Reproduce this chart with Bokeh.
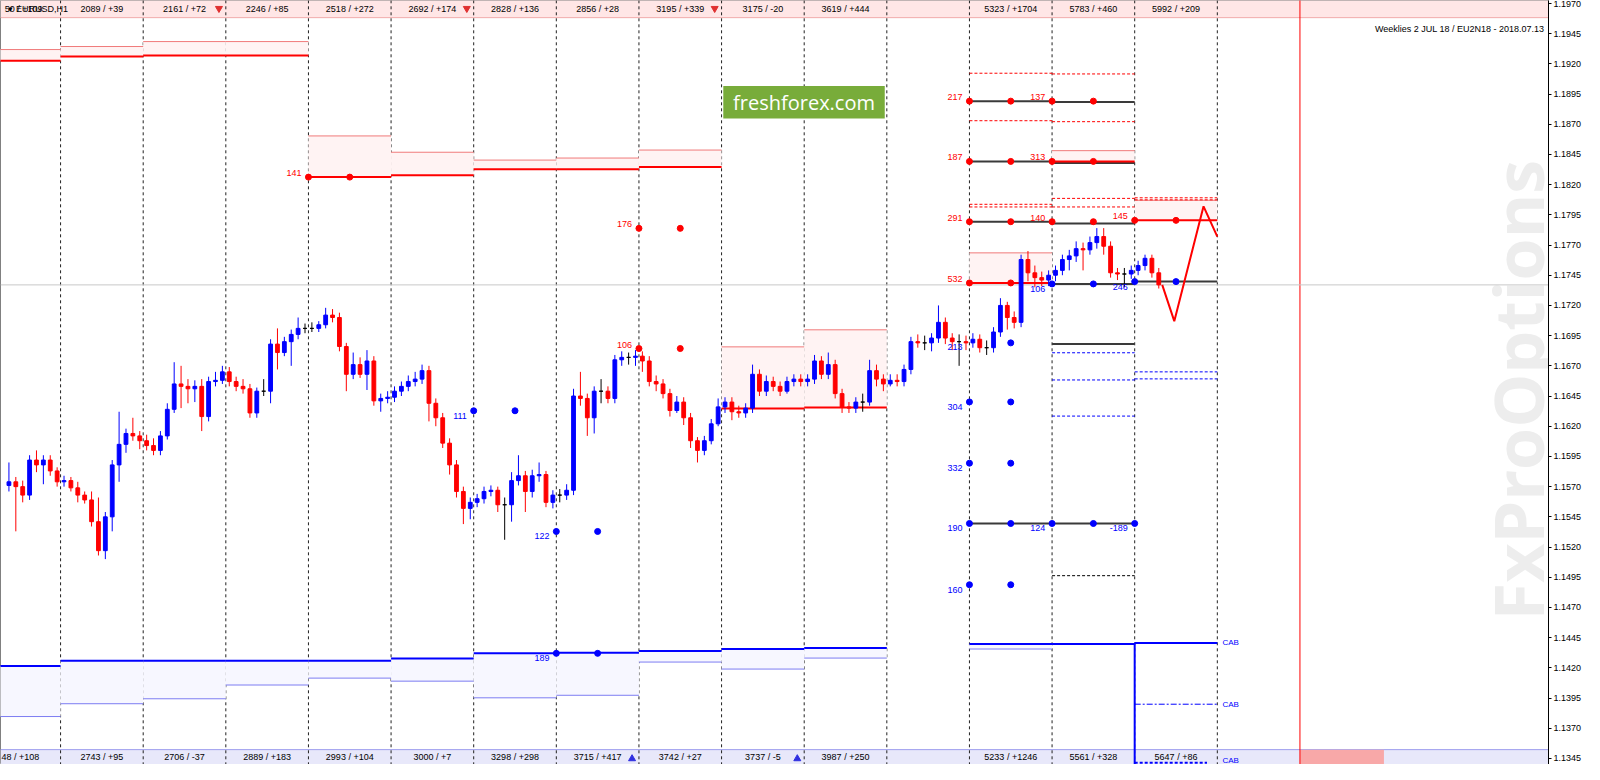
import numpy as np
from bokeh.plotting import figure
from bokeh.models import Range1d, FixedTicker, PrintfTickFormatter, Label
from bokeh.embed import file_html
from bokeh.resources import INLINE
from bokeh.core.properties import value

# ---------------- data ----------------
# time axis in hours; day separators every 24 h (day 0 starts at hour 0)
FIRST_BAR_HOUR = -16
BAR_HOURS = 2

# EURUSD closing prices at every 2-hour mark (first value = open of first bar)
closes = [
    1.1571, 1.1574, 1.1570, 1.1563, 1.1592, 1.1588, 1.1592, 1.1583, 1.1574, 1.1575,
    1.1569, 1.1563, 1.1559, 1.1541, 1.1517, 1.1545, 1.1588, 1.1605, 1.1614, 1.1612,
    1.1608, 1.1604, 1.1600, 1.1612, 1.1634, 1.1655, 1.1653, 1.1651, 1.1653, 1.1628,
    1.1657, 1.1658, 1.1665, 1.1657, 1.1653, 1.1651, 1.1631, 1.1649, 1.1649, 1.1688,
    1.1681, 1.1690, 1.1696, 1.1701, 1.1701, 1.1701, 1.1704, 1.1712, 1.1710, 1.1686,
    1.1663, 1.1671, 1.1663, 1.1674, 1.1641, 1.1643, 1.1644, 1.1649, 1.1653, 1.1657,
    1.1659, 1.1666, 1.1639, 1.1627, 1.1606, 1.1588, 1.1566, 1.1552, 1.1557, 1.1560,
    1.1566, 1.1567, 1.1555, 1.1555, 1.1575, 1.1579, 1.1566, 1.1579, 1.1580, 1.1557,
    1.1563, 1.1563, 1.1567, 1.1645, 1.1643, 1.1627, 1.1649, 1.1649, 1.1643, 1.1675,
    1.1677, 1.1677, 1.1678, 1.1674, 1.1657, 1.1655, 1.1647, 1.1633, 1.1640, 1.1627,
    1.1608, 1.1600, 1.1608, 1.1622, 1.1636, 1.1640, 1.1632, 1.1631, 1.1635, 1.1663,
    1.1649, 1.1657, 1.1653, 1.1649, 1.1657, 1.1659, 1.1657, 1.1659, 1.1674, 1.1663,
    1.1671, 1.1647, 1.1636, 1.1635, 1.1640, 1.1640, 1.1666, 1.1659, 1.1655, 1.1658,
    1.1657, 1.1667, 1.1690, 1.1689, 1.1689, 1.1693, 1.1706, 1.1693, 1.1690, 1.1690,
    1.1689, 1.1692, 1.1685, 1.1685, 1.1698, 1.1720, 1.1710, 1.1706, 1.1758, 1.1747,
    1.1743, 1.1741, 1.1745, 1.1749, 1.1758, 1.1761, 1.1767, 1.1766, 1.1772, 1.1777,
    1.1769, 1.1747, 1.1746, 1.1746, 1.1749, 1.1753, 1.1759, 1.1747, 1.1737,
]
highs = [
    1.1590, 1.1578, 1.1575, 1.1596, 1.1600, 1.1596, 1.1596, 1.1586, 1.1579, 1.1578,
    1.1574, 1.1566, 1.1566, 1.1561, 1.1549, 1.1592, 1.1632, 1.1618, 1.1627, 1.1616,
    1.1613, 1.1610, 1.1616, 1.1639, 1.1673, 1.1670, 1.1659, 1.1658, 1.1659, 1.1661,
    1.1665, 1.1670, 1.1669, 1.1661, 1.1659, 1.1655, 1.1652, 1.1659, 1.1692, 1.1701,
    1.1694, 1.1700, 1.1710, 1.1705, 1.1706, 1.1707, 1.1718, 1.1717, 1.1714, 1.1689,
    1.1681, 1.1677, 1.1683, 1.1678, 1.1647, 1.1649, 1.1653, 1.1657, 1.1662, 1.1665,
    1.1671, 1.1670, 1.1643, 1.1631, 1.1610, 1.1592, 1.1570, 1.1561, 1.1564, 1.1570,
    1.1571, 1.1570, 1.1561, 1.1582, 1.1596, 1.1583, 1.1584, 1.1590, 1.1583, 1.1567,
    1.1568, 1.1572, 1.1651, 1.1665, 1.1647, 1.1653, 1.1659, 1.1653, 1.1679, 1.1682,
    1.1681, 1.1683, 1.1682, 1.1678, 1.1662, 1.1659, 1.1651, 1.1645, 1.1644, 1.1631,
    1.1611, 1.1612, 1.1626, 1.1643, 1.1644, 1.1644, 1.1637, 1.1639, 1.1671, 1.1667,
    1.1662, 1.1661, 1.1657, 1.1661, 1.1663, 1.1663, 1.1663, 1.1679, 1.1678, 1.1681,
    1.1675, 1.1651, 1.1640, 1.1644, 1.1647, 1.1675, 1.1671, 1.1663, 1.1663, 1.1663,
    1.1671, 1.1694, 1.1696, 1.1695, 1.1697, 1.1720, 1.1710, 1.1697, 1.1696, 1.1695,
    1.1697, 1.1696, 1.1691, 1.1702, 1.1726, 1.1723, 1.1715, 1.1762, 1.1765, 1.1753,
    1.1748, 1.1749, 1.1753, 1.1762, 1.1766, 1.1773, 1.1772, 1.1777, 1.1784, 1.1784,
    1.1773, 1.1751, 1.1751, 1.1753, 1.1757, 1.1762, 1.1762, 1.1751,
]
lows = [
    1.1566, 1.1533, 1.1557, 1.1559, 1.1582, 1.1572, 1.1579, 1.1570, 1.1570, 1.1566,
    1.1557, 1.1556, 1.1537, 1.1513, 1.1510, 1.1533, 1.1574, 1.1598, 1.1608, 1.1601,
    1.1600, 1.1596, 1.1596, 1.1609, 1.1631, 1.1635, 1.1639, 1.1640, 1.1616, 1.1624,
    1.1653, 1.1655, 1.1653, 1.1649, 1.1647, 1.1627, 1.1627, 1.1645, 1.1639, 1.1667,
    1.1678, 1.1670, 1.1692, 1.1697, 1.1698, 1.1698, 1.1701, 1.1706, 1.1682, 1.1649,
    1.1659, 1.1660, 1.1650, 1.1637, 1.1632, 1.1639, 1.1640, 1.1645, 1.1649, 1.1653,
    1.1655, 1.1624, 1.1620, 1.1602, 1.1580, 1.1561, 1.1539, 1.1543, 1.1553, 1.1556,
    1.1562, 1.1549, 1.1526, 1.1541, 1.1571, 1.1549, 1.1561, 1.1574, 1.1553, 1.1552,
    1.1557, 1.1559, 1.1563, 1.1637, 1.1612, 1.1614, 1.1639, 1.1639, 1.1639, 1.1670,
    1.1671, 1.1670, 1.1665, 1.1653, 1.1649, 1.1643, 1.1628, 1.1631, 1.1621, 1.1602,
    1.1590, 1.1596, 1.1605, 1.1620, 1.1631, 1.1625, 1.1627, 1.1627, 1.1631, 1.1645,
    1.1645, 1.1649, 1.1645, 1.1647, 1.1653, 1.1653, 1.1653, 1.1655, 1.1659, 1.1659,
    1.1643, 1.1631, 1.1631, 1.1631, 1.1632, 1.1637, 1.1653, 1.1649, 1.1653, 1.1653,
    1.1653, 1.1663, 1.1685, 1.1683, 1.1682, 1.1689, 1.1688, 1.1683, 1.1670, 1.1683,
    1.1685, 1.1681, 1.1679, 1.1681, 1.1694, 1.1700, 1.1701, 1.1702, 1.1740, 1.1735,
    1.1736, 1.1736, 1.1740, 1.1745, 1.1749, 1.1756, 1.1749, 1.1762, 1.1767, 1.1762,
    1.1743, 1.1741, 1.1735, 1.1742, 1.1745, 1.1749, 1.1743, 1.1734,
]
current_price = 1.1737

# projected path (red) after the last bar
proj_hours = [320, 323.5, 332, 336]
proj_prices = [1.1737, 1.1707, 1.1802, 1.1777]

# strip labels per day (day -1 .. 13)
strip_days = [-1, 0, 1, 2, 3, 4, 5, 6, 7, 8, 9, 10, 11, 12, 13]
top_strip = ["50 / +109", "2089 / +39", "2161 / +72", "2246 / +85", "2518 / +272",
             "2692 / +174", "2828 / +136", "2856 / +28", "3195 / +339", "3175 / -20",
             "3619 / +444", "", "5323 / +1704", "5783 / +460", "5992 / +209"]
bottom_strip = ["48 / +108", "2743 / +95", "2706 / -37", "2889 / +183", "2993 / +104",
                "3000 / +7", "3298 / +298", "3715 / +417", "3742 / +27", "3737 / -5",
                "3987 / +250", "", "5233 / +1246", "5561 / +328", "5647 / +86"]
down_arrow_hours = [46, 118, 190]
up_arrow_hours = [166, 214]

# call (red) weekly levels per day: main line and band edge
red_days = [-1, 0, 1, 2, 3, 4, 5, 6, 7, 8, 9, 11, 12, 13]
red_main = [1.19226, 1.19260, 1.19268, 1.19268, 1.18262, 1.18278, 1.18328, 1.18328,
            1.18345, 1.16347, 1.16355, 1.17386, 1.18392, 1.17904]
red_edge = [1.19318, 1.19343, 1.19384, 1.19384, 1.18603, 1.18468, 1.18403, 1.18420,
            1.18486, 1.16857, 1.16998, 1.17635, 1.18481, 1.18070]

# put (blue) levels per day
blue_days = [-1, 0, 1, 2, 3, 4, 5, 6, 7, 8, 9, 11, 12, 13]
blue_main = [1.14215, 1.14258, 1.14258, 1.14258, 1.14258, 1.14277, 1.14320, 1.14326,
             1.14340, 1.14356, 1.14364, 1.14398, 1.14398, 1.14406]
blue_edge = [1.13797, 1.13903, 1.13944, 1.14058, 1.14115, 1.14090, 1.13952, 1.13973,
             1.14248, 1.14190, 1.14281, 1.14356, 1.14398, 1.14406]

# option strike lines (black) per day
strike_days = [11, 12, 11, 12, 11, 12, 12, 13, 12, 11, 12]
strike_prices = [1.18891, 1.18883, 1.18392, 1.18379, 1.17893, 1.17879, 1.17378,
                 1.17397, 1.16881, 1.15395, 1.15395]
red_dash_days = [11, 11, 12, 12, 11, 11, 12, 12, 13, 13]
red_dash_prices = [1.19122, 1.18729, 1.19116, 1.18721, 1.18037, 1.18015, 1.18086,
                   1.18015, 1.18091, 1.18074]
blue_dash_days = [12, 12, 12, 13, 13]
blue_dash_prices = [1.16808, 1.16583, 1.16284, 1.16650, 1.16592]
black_dash_days = [12]
black_dash_prices = [1.14963]

# option markers
red_dot_hours = [72, 84, 168, 180, 168, 180, 264, 276, 288, 300, 264, 276, 288, 300,
                 264, 276, 288, 300, 312, 324, 264, 276]
red_dot_prices = [1.18262, 1.18262, 1.17838, 1.17838, 1.16843, 1.16843,
                  1.18891, 1.18891, 1.18891, 1.18891, 1.18392, 1.18392, 1.18392, 1.18392,
                  1.17893, 1.17893, 1.17893, 1.17893, 1.17904, 1.17904, 1.17386, 1.17386]
blue_dot_hours = [120, 132, 144, 156, 144, 156, 264, 276, 264, 276, 264, 276, 288, 300,
                  312, 264, 276, 276, 288, 300, 312, 324]
blue_dot_prices = [1.16328, 1.16328, 1.15329, 1.15329, 1.14320, 1.14320, 1.16401, 1.16401,
                   1.15894, 1.15894, 1.15395, 1.15395, 1.15395, 1.15395, 1.15395,
                   1.14888, 1.14888, 1.16890, 1.17378, 1.17378, 1.17397, 1.17397]

red_label_text = ["141", "176", "106", "217", "187", "291", "532", "137", "313", "140", "145"]
red_label_hours = [70, 166, 166, 262, 262, 262, 262, 286, 286, 286, 310]
red_label_prices = [1.18262, 1.17838, 1.16843, 1.18891, 1.18392, 1.17893, 1.17386,
                    1.18891, 1.18392, 1.17893, 1.17904]
blue_label_text = ["111", "122", "189", "304", "332", "190", "160", "124", "-189", "106",
                   "246", "213"]
blue_label_hours = [118, 142, 142, 262, 262, 262, 262, 286, 310, 286, 310, 262]
blue_label_prices = [1.16328, 1.15329, 1.14320, 1.16401, 1.15894, 1.15395, 1.14888,
                     1.15395, 1.15395, 1.17378, 1.17397, 1.16900]

cab_prices = [1.14406, 1.13899, 1.13435]

price_ticks = [1.1345, 1.1370, 1.1395, 1.1420, 1.1445, 1.1470, 1.1495, 1.1520, 1.1545,
               1.1570, 1.1595, 1.1620, 1.1645, 1.1670, 1.1695, 1.1720, 1.1745, 1.1770,
               1.1795, 1.1820, 1.1845, 1.1870, 1.1895, 1.1920, 1.1945, 1.1970]

# ---------------- figure ----------------
X0, X1 = -17.45, 432.2
Y0, Y1 = 1.13400, 1.19724
FONT = value("Liberation Sans")

p = figure(width=1584, height=764, output_backend="svg", toolbar_location=None,
           x_range=Range1d(X0, X1), y_range=Range1d(Y0, Y1),
           x_axis_location=None, y_axis_location="right",
           min_border_left=0, min_border_top=0, min_border_bottom=0, min_border_right=33)
p.grid.visible = False
p.outline_line_color = "#808080"
p.background_fill_color = "white"
p.yaxis.ticker = FixedTicker(ticks=price_ticks)
p.yaxis.formatter = PrintfTickFormatter(format="%.4f")
p.yaxis.major_label_text_font_size = "9px"
p.yaxis.major_label_text_font = "Liberation Sans"
p.yaxis.major_label_text_color = "black"
p.yaxis.axis_line_color = "black"
p.yaxis.major_tick_out = 3
p.yaxis.major_tick_in = 0
p.yaxis.minor_tick_line_color = None
p.yaxis.major_label_standoff = 2

# watermark
p.add_layout(Label(x=423.3, y=1.1650, text="FxProOptions", angle=np.pi / 2,
                   text_font="Open Sans", text_font_style="bold", text_font_size="68px",
                   text_color="#EDEDED", text_align="center", text_baseline="middle",
                   level="underlay"))

# top / bottom info strips
TOP_BAND_LOW = 1.19582
BOT_BAND_HIGH = 1.13523
p.quad(left=[X0], right=[X1], bottom=[TOP_BAND_LOW], top=[Y1 + 0.001],
       fill_color="#FFE6E6", line_color=None)
p.segment(x0=[X0], x1=[X1], y0=[TOP_BAND_LOW], y1=[TOP_BAND_LOW], line_color="#F2AAAA", line_width=1)
p.quad(left=[X0], right=[X1], bottom=[Y0 - 0.001], top=[BOT_BAND_HIGH],
       fill_color="#E8E8FA", line_color=None)
p.segment(x0=[X0], x1=[X1], y0=[BOT_BAND_HIGH], y1=[BOT_BAND_HIGH], line_color="#9C9CEE", line_width=1)
p.quad(left=[360], right=[384.4], bottom=[Y0 - 0.001], top=[BOT_BAND_HIGH],
       fill_color="#F8A8A8", line_color=None)

# day separators
sep_hours = [24 * d for d in range(0, 15)]
p.segment(x0=sep_hours, x1=sep_hours, y0=[Y0 - 0.01] * len(sep_hours),
          y1=[Y1 + 0.01] * len(sep_hours), line_color="#202020", line_width=1, line_dash="3 3")
p.segment(x0=[360], x1=[360], y0=[Y0 - 0.01], y1=[Y1 + 0.01], line_color="#FF0000", line_width=1)

# current price line
p.segment(x0=[X0], x1=[X1], y0=[current_price], y1=[current_price], line_color="#C8C8C8", line_width=1)

# red level bands
rl = [24 * d for d in red_days]
rr = [24 * d + 24 for d in red_days]
p.quad(left=rl, right=rr, bottom=red_main, top=red_edge, fill_color="#FFF3F3", line_color=None)
p.segment(x0=rl, x1=rr, y0=red_edge, y1=red_edge, line_color="#F07A7A", line_width=1)
# blue level bands
bl = [24 * d for d in blue_days]
br = [24 * d + 24 for d in blue_days]
p.quad(left=bl, right=br, bottom=blue_edge, top=blue_main, fill_color="#F7F7FF", line_color=None)
p.segment(x0=bl, x1=br, y0=blue_edge, y1=blue_edge, line_color="#7C7CF2", line_width=1)

# dashed option ranges
p.segment(x0=[24 * d for d in red_dash_days], x1=[24 * d + 24 for d in red_dash_days],
          y0=red_dash_prices, y1=red_dash_prices, line_color="#FF0000", line_width=1, line_dash="3 2")
p.segment(x0=[24 * d for d in blue_dash_days], x1=[24 * d + 24 for d in blue_dash_days],
          y0=blue_dash_prices, y1=blue_dash_prices, line_color="#0000FF", line_width=1, line_dash="3 2")
p.segment(x0=[24 * d for d in black_dash_days], x1=[24 * d + 24 for d in black_dash_days],
          y0=black_dash_prices, y1=black_dash_prices, line_color="#000000", line_width=1, line_dash="3 2")
# strike lines
p.segment(x0=[24 * d for d in strike_days], x1=[24 * d + 24 for d in strike_days],
          y0=strike_prices, y1=strike_prices, line_color="#3A3A3A", line_width=2)

# main level lines
p.segment(x0=rl, x1=rr, y0=red_main, y1=red_main, line_color="#FF0000", line_width=2)
p.segment(x0=bl, x1=br, y0=blue_main, y1=blue_main, line_color="#0000FF", line_width=2)

# special blue CAB structure on last day
p.segment(x0=[312], x1=[312], y0=[blue_main[-1]], y1=[Y0 - 0.001], line_color="#0000FF", line_width=2)
p.segment(x0=[312], x1=[336], y0=[cab_prices[1]], y1=[cab_prices[1]], line_color="#0000FF",
          line_width=1, line_dash="6 2 2 2")
p.segment(x0=[312], x1=[333], y0=[1.13415], y1=[1.13415], line_color="#0000FF", line_width=2, line_dash="3 2")
p.text(x=[337.5] * 3, y=cab_prices, text=["CAB"] * 3, text_font=FONT, text_font_size="8px",
       text_color="#0000FF", text_align="left", text_baseline="middle")

# candlesticks
n = len(highs)
opens = closes[:-1]
cls = closes[1:]
xs = [FIRST_BAR_HOUR + BAR_HOURS * i + BAR_HOURS / 2 for i in range(n)]
cols = ["#0000FF" if c > o else ("#FF0000" if c < o else "#000000") for o, c in zip(opens, cls)]
p.segment(x0=xs, x1=xs, y0=lows, y1=highs, line_color=cols, line_width=1)
p.vbar(x=xs, width=1.1, top=[max(o, c) for o, c in zip(opens, cls)],
       bottom=[min(o, c) for o, c in zip(opens, cls)], fill_color=cols, line_color=cols, line_width=1)

# projection
p.line(proj_hours, proj_prices, line_color="#FF0000", line_width=2)

# dots
p.scatter(red_dot_hours, red_dot_prices, size=6, color="#FF0000")
p.scatter(blue_dot_hours, blue_dot_prices, size=6, color="#0000FF")

# level labels
p.text(x=red_label_hours, y=red_label_prices, text=red_label_text, text_font=FONT,
       text_font_size="9px", text_color="#FF0000", text_align="right", text_baseline="bottom", y_offset=-1)
p.text(x=blue_label_hours, y=blue_label_prices, text=blue_label_text, text_font=FONT,
       text_font_size="9px", text_color="#0000FF", text_align="right", text_baseline="top", y_offset=2)

# strip texts
strip_x = [24 * d + 12 for d in strip_days[1:]]
p.text(x=strip_x, y=[1.19651] * len(strip_x), text=top_strip[1:], text_font=FONT,
       text_font_size="9px", text_color="#000000", text_align="center", text_baseline="middle")
p.text(x=strip_x, y=[1.13462] * len(strip_x), text=bottom_strip[1:], text_font=FONT,
       text_font_size="9px", text_color="#000000", text_align="center", text_baseline="middle")
p.text(x=[X0 + 1.2], y=[1.19651], text=[top_strip[0]], text_font=FONT, text_font_size="9px",
       text_color="#000000", text_align="left", text_baseline="middle")
p.text(x=[X0 + 0.3], y=[1.13462], text=[bottom_strip[0]], text_font=FONT, text_font_size="9px",
       text_color="#000000", text_align="left", text_baseline="middle")
p.text(x=[X0 + 2.3], y=[1.19655], text=["\u25be EURUSD,H1"], text_font=FONT, text_font_size="9px",
       text_color="#000000", text_align="left", text_baseline="middle")
p.scatter(down_arrow_hours, [1.19658] * len(down_arrow_hours), marker="inverted_triangle",
          size=7, color="#E03030")
p.scatter(up_arrow_hours, [1.13448] * len(up_arrow_hours), marker="triangle", size=7, color="#3030E0")

# title
p.text(x=[431.0], y=[1.19490], text=["Weeklies 2 JUL 18 / EU2N18 - 2018.07.13"], text_font=FONT,
       text_font_size="9px", text_color="#000000", text_align="right", text_baseline="middle")

# freshforex badge
p.quad(left=[192.5], right=[239.4], bottom=[1.18747], top=[1.19016], fill_color="#78AC3A", line_color=None)
p.text(x=[215.95], y=[1.188815], text=["freshforex.com"], text_font=value("Open Sans"),
       text_font_size="20px", text_color="white", text_align="center", text_baseline="middle")

open("out.html", "w").write(file_html(p, INLINE))
